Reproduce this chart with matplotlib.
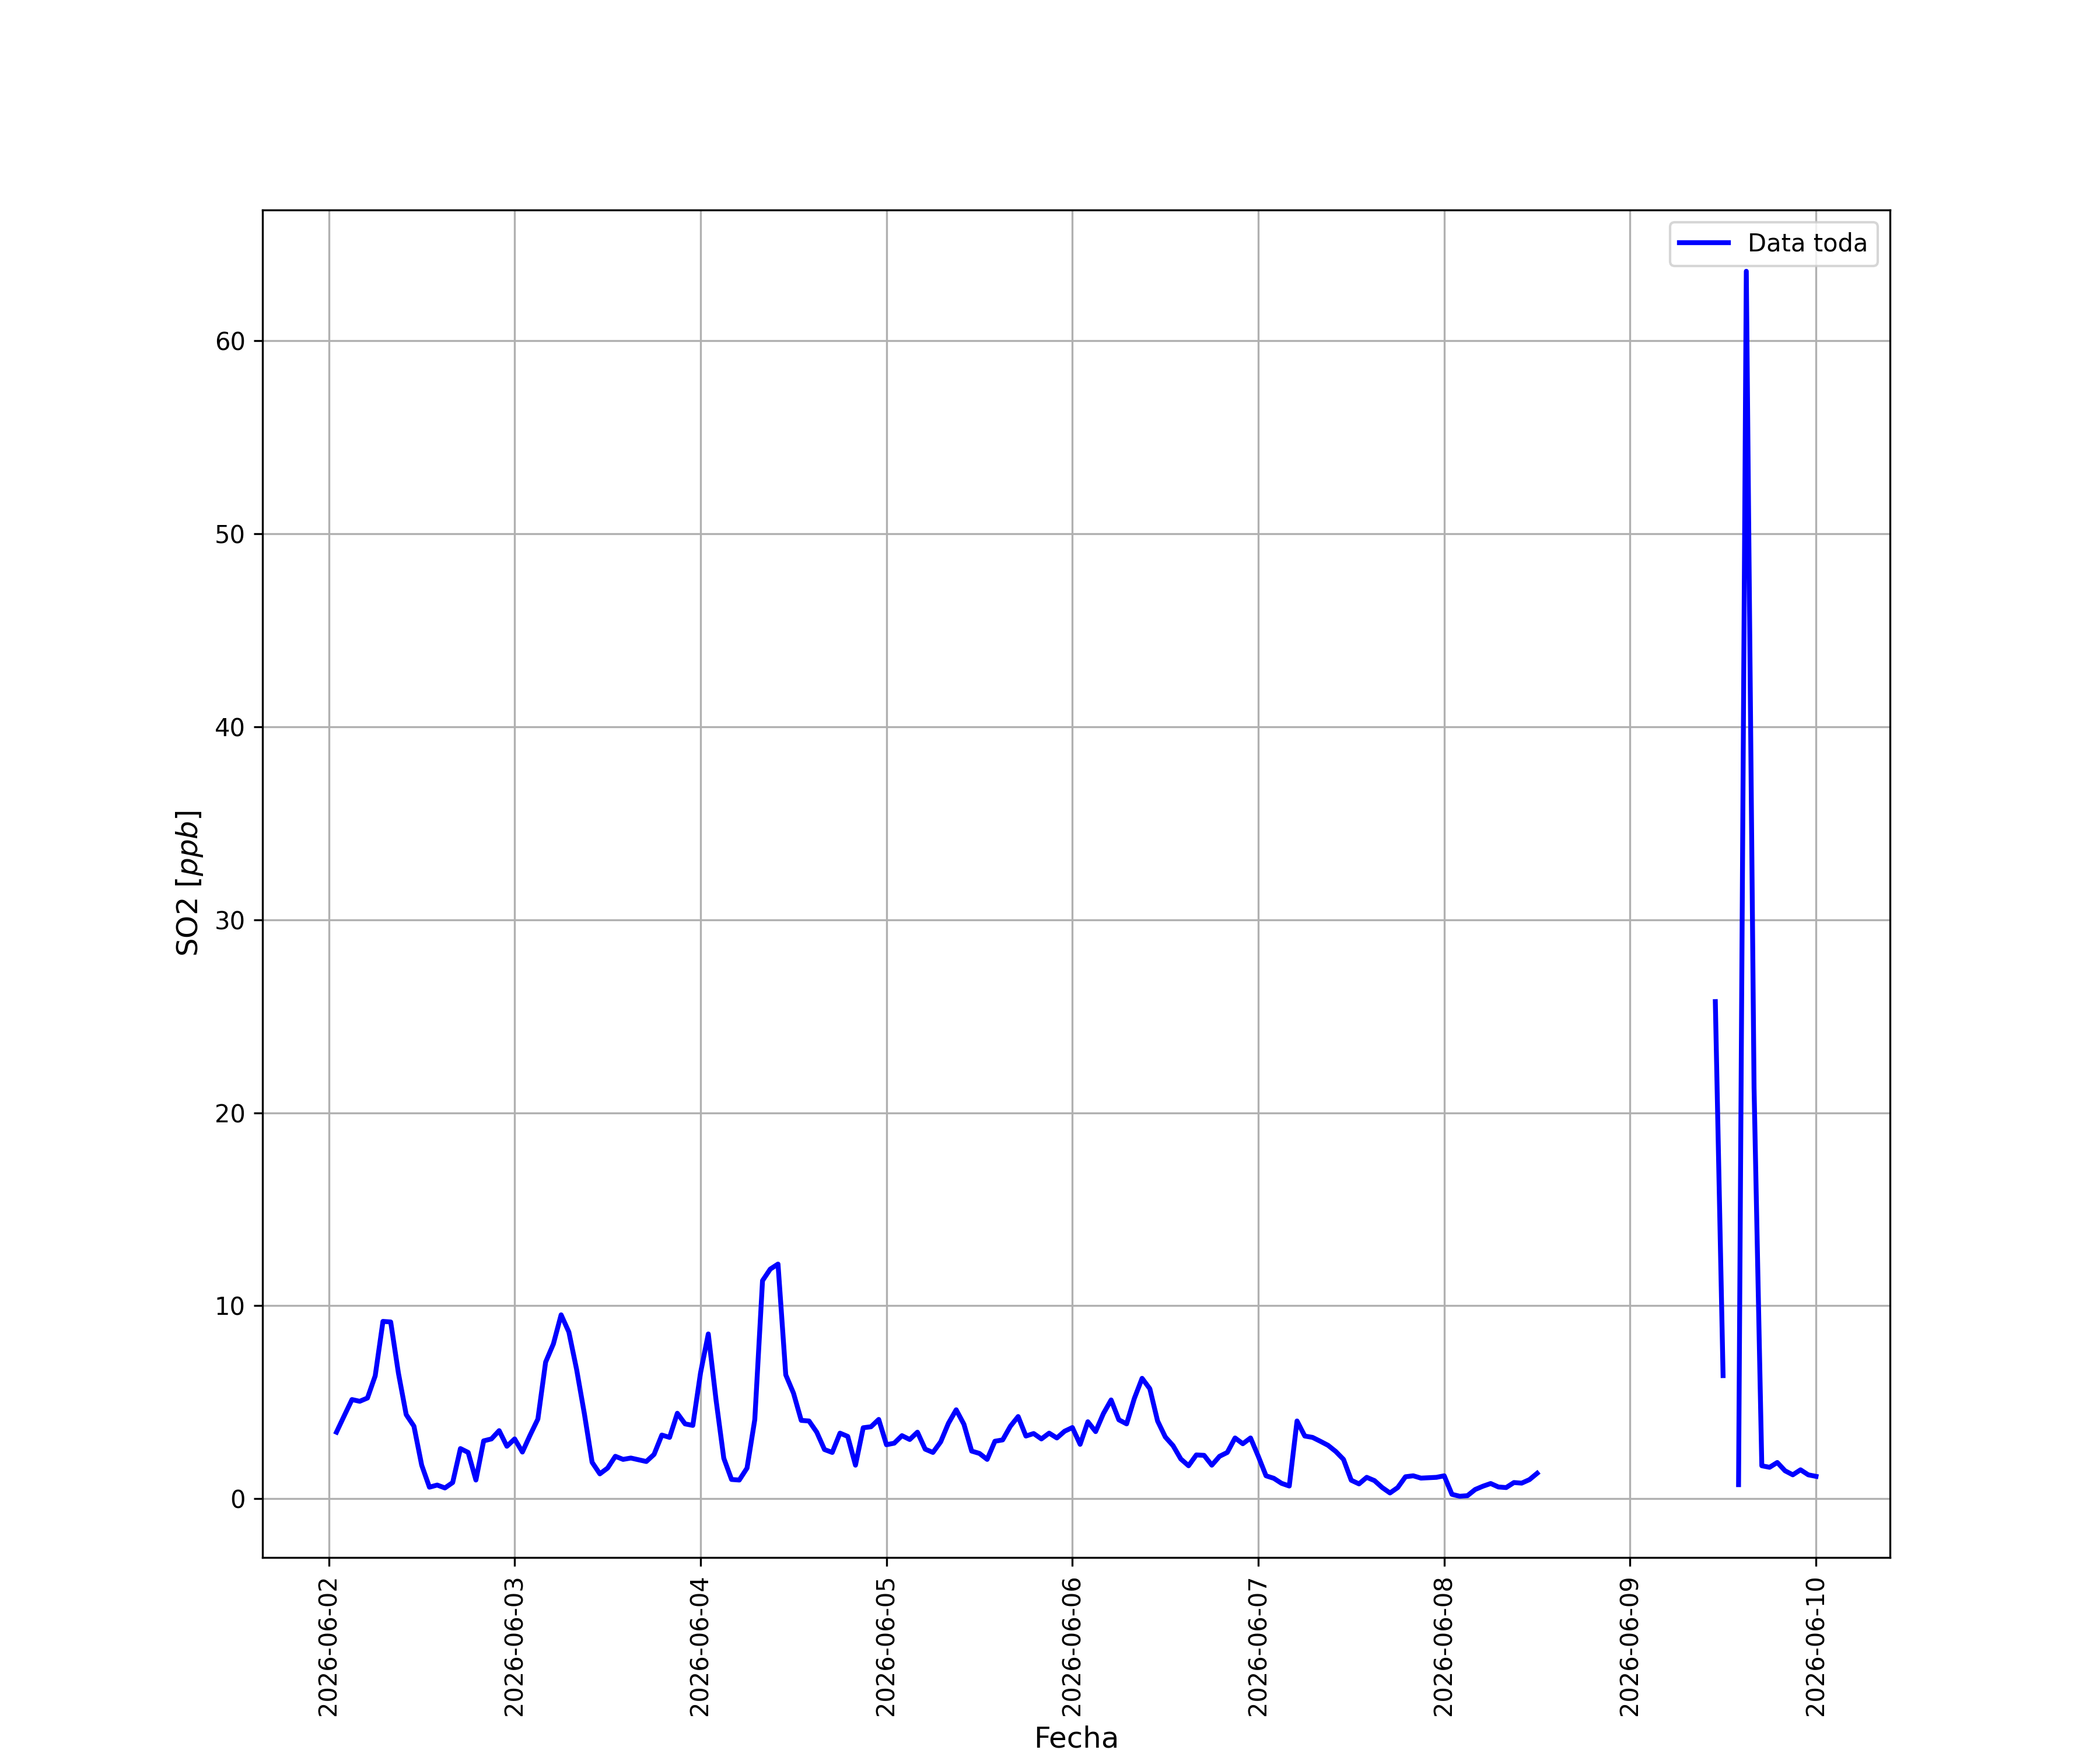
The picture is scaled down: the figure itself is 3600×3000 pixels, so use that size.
import numpy as np
import pandas as pd
import matplotlib
matplotlib.use("Agg")
import matplotlib.pyplot as plt
import matplotlib.dates as mdates

# hourly SO2 readings, first block starts 2026-06-02 01:00
start_1 = "2026-06-02 01:00"
so2_1 = [
    3.45, 4.3, 5.14, 5.05, 5.22, 6.37, 9.19, 9.16, 6.5, 4.36,
    3.76, 1.74, 0.60, 0.71, 0.56, 0.84, 2.6, 2.4, 0.97, 3.0,
    3.1, 3.53, 2.72, 3.1, 2.42, 3.3, 4.13, 7.08, 8.02, 9.53,
    8.64, 6.7, 4.41, 1.89, 1.29, 1.59, 2.2, 2.04, 2.11, 2.02,
    1.93, 2.3, 3.3, 3.18, 4.43, 3.88, 3.8, 6.53, 8.54, 5.12,
    2.1, 1.0, 0.97, 1.59, 4.1, 11.3, 11.9, 12.16, 6.42, 5.47,
    4.06, 4.03, 3.45, 2.55, 2.4, 3.4, 3.23, 1.74, 3.68, 3.73,
    4.11, 2.8, 2.88, 3.27, 3.07, 3.45, 2.57, 2.4, 2.95, 3.91,
    4.61, 3.86, 2.47, 2.35, 2.04, 2.98, 3.05, 3.76, 4.26, 3.25,
    3.38, 3.1, 3.4, 3.15, 3.5, 3.69, 2.82, 3.99, 3.48, 4.41,
    5.12, 4.09, 3.88, 5.2, 6.24, 5.7, 4.03, 3.2, 2.75, 2.06,
    1.71, 2.27, 2.25, 1.74, 2.2, 2.4, 3.15, 2.85, 3.15, 2.2,
    1.19, 1.06, 0.8, 0.66, 4.03, 3.25, 3.18, 2.98, 2.77, 2.45,
    2.04, 0.96, 0.77, 1.11, 0.94, 0.58, 0.3, 0.58, 1.14, 1.19,
    1.07, 1.09, 1.11, 1.19, 0.23, 0.13, 0.16, 0.48, 0.65, 0.79,
    0.61, 0.58, 0.84, 0.81, 0.99, 1.32,
]

# second block starts 2026-06-09 11:00 (one missing hour)
start_2 = "2026-06-09 11:00"
so2_2 = [25.76, 6.38, np.nan, 0.73, 63.6, 21.3, 1.71, 1.63, 1.88, 1.45,
         1.24, 1.5, 1.24, 1.16]

s1 = pd.Series(so2_1, index=pd.date_range(start_1, periods=len(so2_1), freq="h"))
s2 = pd.Series(so2_2, index=pd.date_range(start_2, periods=len(so2_2), freq="h"))
serie = pd.concat([s1, s2]).asfreq("h")

fig = plt.figure(figsize=(12, 10))
ax = fig.add_subplot(111)

ax.plot(serie.index, serie.values, color="blue", linewidth=2, label="Data toda")

ax.xaxis.set_major_locator(mdates.DayLocator())
ax.xaxis.set_major_formatter(mdates.DateFormatter("%Y-%m-%d"))
plt.setp(ax.get_xticklabels(), rotation=90)

ax.set_xlabel("Fecha", fontsize=12)
ax.set_ylabel("SO2 [$ppb$]", fontsize=12)
ax.grid(True)
ax.legend(loc="upper right")

fig.savefig("out.png", dpi=300)
